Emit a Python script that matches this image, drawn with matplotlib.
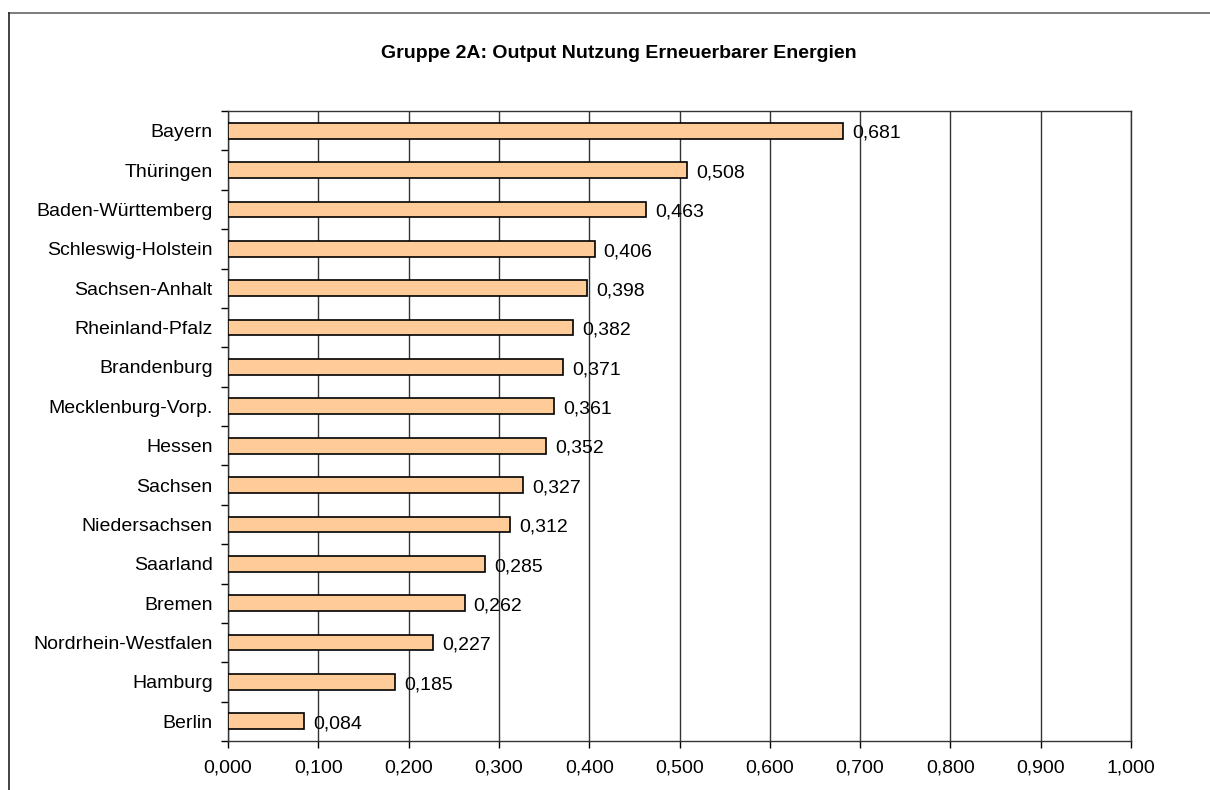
import numpy as np
import matplotlib
matplotlib.use('Agg')
from matplotlib import pyplot as plt
from matplotlib.lines import Line2D
from matplotlib.ticker import FixedLocator, FuncFormatter

plt.rcParams['font.family'] = ['Liberation Sans', 'DejaVu Sans']

title = 'Gruppe 2A: Output Nutzung Erneuerbarer Energien'

laender = ['Bayern', 'Thüringen', 'Baden-Württemberg', 'Schleswig-Holstein',
           'Sachsen-Anhalt', 'Rheinland-Pfalz', 'Brandenburg',
           'Mecklenburg-Vorp.', 'Hessen', 'Sachsen', 'Niedersachsen',
           'Saarland', 'Bremen', 'Nordrhein-Westfalen', 'Hamburg', 'Berlin']
werte = [0.681, 0.508, 0.463, 0.406, 0.398, 0.382, 0.371, 0.361, 0.352,
         0.327, 0.312, 0.285, 0.262, 0.227, 0.185, 0.084]

x_ticks = np.arange(0, 1.0001, 0.1)


def komma(v, pos=None):
    return ('%.3f' % v).replace('.', ',')


W, H = 1210, 790
fig = plt.figure(figsize=(W / 100, H / 100), dpi=100)
ax = fig.add_axes([228 / W, 1 - 741 / H, (1131 - 228) / W, (741 - 111) / H])

n = len(laender)
pos = np.arange(n)[::-1]
ax.barh(pos, werte, height=0.4, color='#FFCC99', edgecolor='black',
        linewidth=1.2, zorder=3)

for p, v in zip(pos, werte):
    ax.annotate(komma(v), (v, p), xytext=(6.5, -2), textcoords='offset points',
                ha='left', va='center', fontsize=14, zorder=4)

ax.set_xlim(0, 1.0)
ax.set_ylim(-0.5, n - 0.5)
ax.xaxis.set_major_locator(FixedLocator(x_ticks))
ax.xaxis.set_major_formatter(FuncFormatter(komma))
ax.set_yticks(pos)
ax.set_yticklabels(laender)
ax.yaxis.set_minor_locator(FixedLocator(np.arange(-0.5, n, 1.0)))
ax.tick_params(axis='y', which='major', length=0, pad=11, labelsize=14)
ax.tick_params(axis='y', which='minor', length=5, width=1, direction='out')
ax.tick_params(axis='x', which='major', length=5, width=1, direction='out',
               pad=8, labelsize=14)
ax.grid(axis='x', color='#333333', linewidth=1, zorder=0)
for s in ax.spines.values():
    s.set_color('#333333')
    s.set_linewidth(1)

fig.text(619 / W, 1 - 53 / H, title, ha='center', va='center',
         fontsize=14, fontweight='bold')

# Rahmen des Diagrammbereichs (rechts und unten abgeschnitten)
fig.add_artist(Line2D([9 / W, 1], [1 - 13 / H, 1 - 13 / H],
                      transform=fig.transFigure, color='#666666', lw=1.2))
fig.add_artist(Line2D([9 / W, 9 / W], [0, 1 - 13 / H],
                      transform=fig.transFigure, color='#222222', lw=1.2))

# Rest einer Überschrift oberhalb des Bildausschnitts
fig.text(206 / W, 1 + 5 / H, 'Energy', ha='right', va='baseline',
         fontsize=14, fontweight='bold')

fig.savefig('out.png', dpi=100)
